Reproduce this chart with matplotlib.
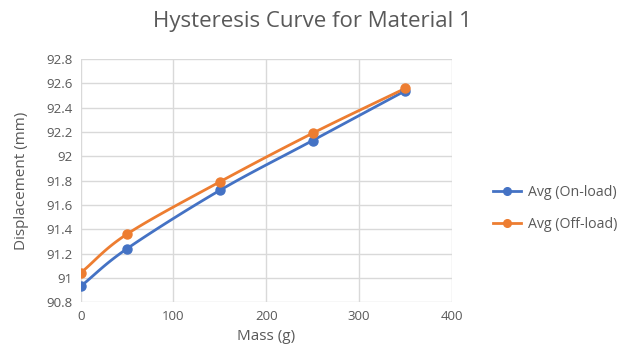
import numpy as np
import matplotlib
matplotlib.use('Agg')
import matplotlib.pyplot as plt

plt.rcParams['font.family'] = ['Open Sans', 'DejaVu Sans']

mass = [0, 50, 150, 250, 350]
on_load = [90.93, 91.24, 91.72, 92.13, 92.54]
off_load = [91.04, 91.36, 91.79, 92.19, 92.56]

BLUE = '#4472C4'
ORANGE = '#ED7D31'
TEXT = '#595959'
GRID = '#D9D9D9'


def smooth(xs, ys, n=30):
    # Catmull-Rom style curve through the points, like Excel's smoothed line
    xs = np.asarray(xs, float)
    ys = np.asarray(ys, float)
    px = np.concatenate([[2 * xs[0] - xs[1]], xs, [2 * xs[-1] - xs[-2]]])
    py = np.concatenate([[2 * ys[0] - ys[1]], ys, [2 * ys[-1] - ys[-2]]])
    t = np.linspace(0, 1, n)
    outx, outy = [], []
    for i in range(1, len(px) - 2):
        for p, out in ((px, outx), (py, outy)):
            p0, p1, p2, p3 = p[i - 1], p[i], p[i + 1], p[i + 2]
            m1 = (p2 - p0) / 6
            m2 = (p3 - p1) / 6
            c1 = p1 + m1
            c2 = p2 - m2
            out.extend((1 - t) ** 3 * p1 + 3 * (1 - t) ** 2 * t * c1 + 3 * (1 - t) * t ** 2 * c2 + t ** 3 * p2)
    return outx, outy


fig = plt.figure(figsize=(6.25, 3.58), dpi=100)
ax = fig.add_axes([0.129, 0.156, 0.594, 0.679])

for ys, col, lab in ((on_load, BLUE, 'Avg (On-load)'), (off_load, ORANGE, 'Avg (Off-load)')):
    sx, sy = smooth(mass, ys)
    ax.plot(sx, sy, color=col, lw=2, zorder=3)
    ax.plot(mass, ys, 'o', color=col, ms=6.5, zorder=4)
    ax.plot([], [], '-o', color=col, lw=2, ms=5.5, label=lab)

ax.set_xlim(0, 400)
ax.set_ylim(90.8, 92.8)
ax.set_xticks(np.arange(0, 401, 100))
ax.set_yticks(np.round(np.arange(90.8, 92.81, 0.2), 1))
ax.set_yticklabels(['90.8', '91', '91.2', '91.4', '91.6', '91.8', '92', '92.2', '92.4', '92.6', '92.8'])
ax.grid(True, color=GRID, lw=1)
ax.set_axisbelow(True)
for s in ax.spines.values():
    s.set_visible(False)
ax.tick_params(length=0, colors=TEXT, labelsize=9.5, pad=6)

ax.set_xlabel('Mass (g)', color=TEXT, fontsize=11, labelpad=4)
ax.set_ylabel('Displacement (mm)', color=TEXT, fontsize=11, labelpad=2)
ax.yaxis.set_label_coords(-0.14, 0.5)
fig.text(0.5, 0.94, 'Hysteresis Curve for Material 1', ha='center', va='center',
         color=TEXT, fontsize=16)

ax.legend(loc='center left', bbox_to_anchor=(1.095, 0.385), frameon=False,
          fontsize=10.2, labelcolor=TEXT, handlelength=2.0, handletextpad=0.45,
          labelspacing=1.25, borderaxespad=0)

fig.savefig('out.png', dpi=100)
